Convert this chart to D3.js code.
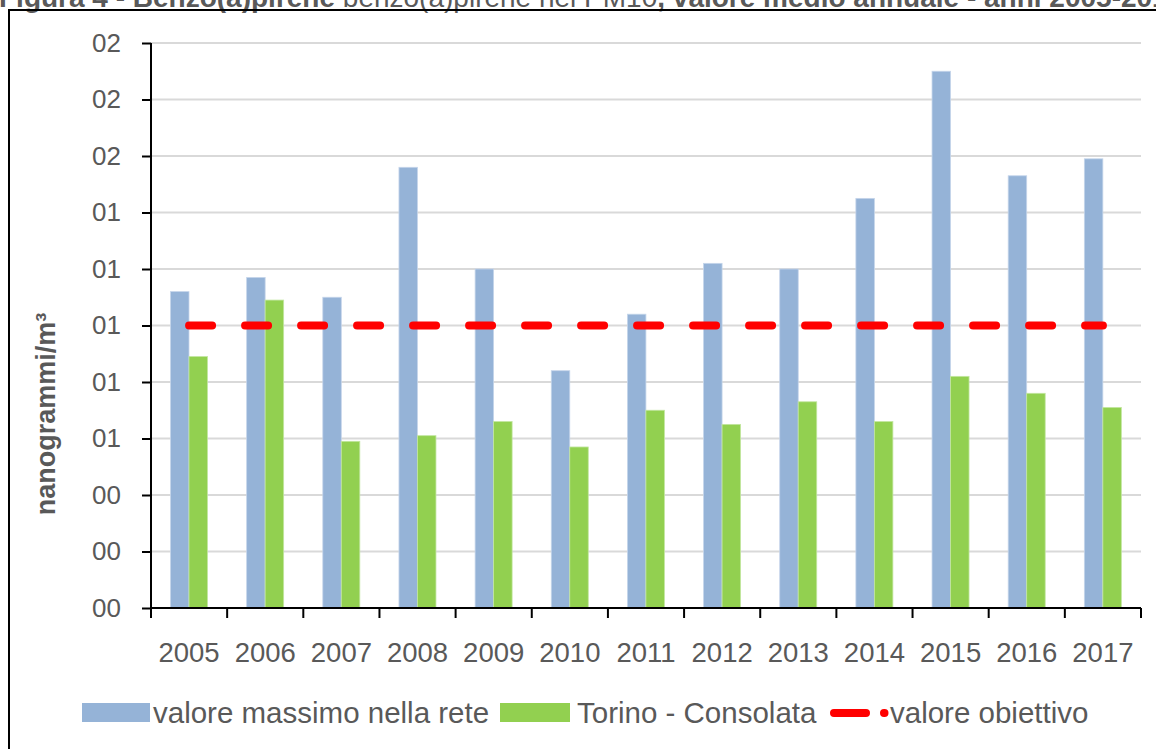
<!DOCTYPE html>
<html>
<head>
<meta charset="utf-8">
<script src="https://cdn.jsdelivr.net/npm/d3@7"></script>
<style>
  html, body { margin: 0; padding: 0; background: #fff; }
  svg { display: block; font-family: "Liberation Sans", Arial, sans-serif; }
</style>
</head>
<body>
<svg id="chart" width="1156" height="749"></svg>
<script>
const years = ["2005","2006","2007","2008","2009","2010","2011","2012","2013","2014","2015","2016","2017"];
const valoreMassimo = [1.12, 1.17, 1.10, 1.56, 1.20, 0.84, 1.04, 1.22, 1.20, 1.45, 1.90, 1.53, 1.59];
const torinoConsolata = [0.89, 1.09, 0.59, 0.61, 0.66, 0.57, 0.70, 0.65, 0.73, 0.66, 0.82, 0.76, 0.71];
const valoreObiettivo = 1.0;
const yTickValues = [0, 0.2, 0.4, 0.6, 0.8, 1.0, 1.2, 1.4, 1.6, 1.8, 2.0];
const yTickLabels = ["00","00","00","01","01","01","01","01","02","02","02"];
const seriesNames = ["valore massimo nella rete", "Torino - Consolata", "valore obiettivo"];
const colors = ["#95B3D7", "#92D050", "#FF0000"];

(function () {
const svg = d3.select("#chart");
const textColor = "#595959";

// title (cut off at top, as in the reference)
const title = svg.append("text").attr("x", -1).attr("y", 7).attr("fill", textColor).attr("font-weight", "bold").attr("font-size", 28);
title.append("tspan").text("Figura 4 - Benzo(a)pirene ");
title.append("tspan").attr("font-weight", "normal").attr("font-size", 28).text("benzo(a)pirene nel PM10");
title.append("tspan").text(", valore medio annuale - anni 2005-2017");

// outer frame
svg.append("rect").attr("x", 9).attr("y", 10).attr("width", 1160).attr("height", 760)
  .attr("fill", "none").attr("stroke", "#000").attr("stroke-width", 2);

const pL = 151, pR = 1141, pT = 43, pB = 608;
const x = d3.scaleBand().domain(years).range([pL, pR]).paddingInner(0).paddingOuter(0);
const xs = d3.scaleBand().domain([0, 1]).range([19.5, 56.5]).padding(0);
const y = d3.scaleLinear().domain([0, 2]).range([pB, pT]);

// gridlines
svg.append("g").selectAll("line").data(yTickValues).join("line")
  .attr("x1", pL).attr("x2", pR)
  .attr("y1", d => y(d)).attr("y2", d => y(d))
  .attr("stroke", "#d9d9d9").attr("stroke-width", 2);

// bars
const groups = svg.append("g").selectAll("g").data(years).join("g")
  .attr("transform", d => `translate(${x(d)},0)`);
groups.append("rect")
  .attr("x", xs(0)).attr("width", xs.bandwidth())
  .attr("y", (d, i) => y(valoreMassimo[i])).attr("height", (d, i) => pB - y(valoreMassimo[i]))
  .attr("fill", colors[0]).attr("stroke", "#c5d5ea").attr("stroke-width", 0.8);
groups.append("rect")
  .attr("x", xs(1)).attr("width", xs.bandwidth())
  .attr("y", (d, i) => y(torinoConsolata[i])).attr("height", (d, i) => pB - y(torinoConsolata[i]))
  .attr("fill", colors[1]).attr("stroke", "#c2e6a0").attr("stroke-width", 0.8);

// objective line
const lineData = years.map(yr => ({ yr, v: valoreObiettivo }));
svg.append("path").datum(lineData)
  .attr("d", d3.line().x(d => x(d.yr) + x.bandwidth() / 2).y(d => y(d.v)))
  .attr("fill", "none").attr("stroke", colors[2]).attr("stroke-width", 8)
  .attr("stroke-linecap", "round").attr("stroke-dasharray", "23,33");

// y axis
const yAxis = svg.append("g").attr("transform", `translate(${pL},0)`)
  .call(d3.axisLeft(y).tickValues(yTickValues).tickFormat((d, i) => yTickLabels[i]).tickSize(9).tickPadding(21));
yAxis.select(".domain").attr("stroke", "#000").attr("stroke-width", 2).attr("d", `M0,${pT}V${pB}`);
yAxis.selectAll(".tick line").attr("stroke", "#000").attr("stroke-width", 2);
yAxis.selectAll(".tick text").attr("fill", textColor).attr("font-size", 26).attr("font-family", "Liberation Sans, Arial, sans-serif");

// x axis
const xAxis = svg.append("g").attr("transform", `translate(0,${pB})`)
  .call(d3.axisBottom(x).tickSize(0).tickPadding(34));
xAxis.select(".domain").attr("stroke", "#000").attr("stroke-width", 2).attr("d", `M${pL},0H${pR}`);
xAxis.selectAll(".tick text").attr("fill", textColor).attr("font-size", 27.5).attr("font-family", "Liberation Sans, Arial, sans-serif");
svg.append("g").selectAll("line").data(years.concat(["end"])).join("line")
  .attr("x1", d => d === "end" ? pR : x(d)).attr("x2", d => d === "end" ? pR : x(d))
  .attr("y1", pB).attr("y2", pB + 10)
  .attr("stroke", "#000").attr("stroke-width", 2);

// y axis title
svg.append("text").attr("transform", "translate(55,414) rotate(-90)")
  .attr("text-anchor", "middle").attr("font-weight", "bold").attr("font-size", 27)
  .attr("fill", textColor).text("nanogrammi/m³");

// legend
const leg = svg.append("g");
leg.append("rect").attr("x", 82).attr("y", 703).attr("width", 68).attr("height", 19).attr("fill", colors[0]);
leg.append("text").attr("x", 153).attr("y", 723).attr("font-size", 29.5).attr("fill", textColor).text(seriesNames[0]);
leg.append("rect").attr("x", 500).attr("y", 703).attr("width", 70).attr("height", 19).attr("fill", colors[1]);
leg.append("text").attr("x", 577).attr("y", 723).attr("font-size", 29.5).attr("fill", textColor).text(seriesNames[1]);
leg.append("line").attr("x1", 834).attr("x2", 884.5).attr("y1", 713).attr("y2", 713)
  .attr("stroke", colors[2]).attr("stroke-width", 8).attr("stroke-linecap", "round").attr("stroke-dasharray", "32,18");
leg.append("text").attr("x", 890).attr("y", 723).attr("font-size", 29.5).attr("fill", textColor).text(seriesNames[2]);
})();
</script>
</body>
</html>
